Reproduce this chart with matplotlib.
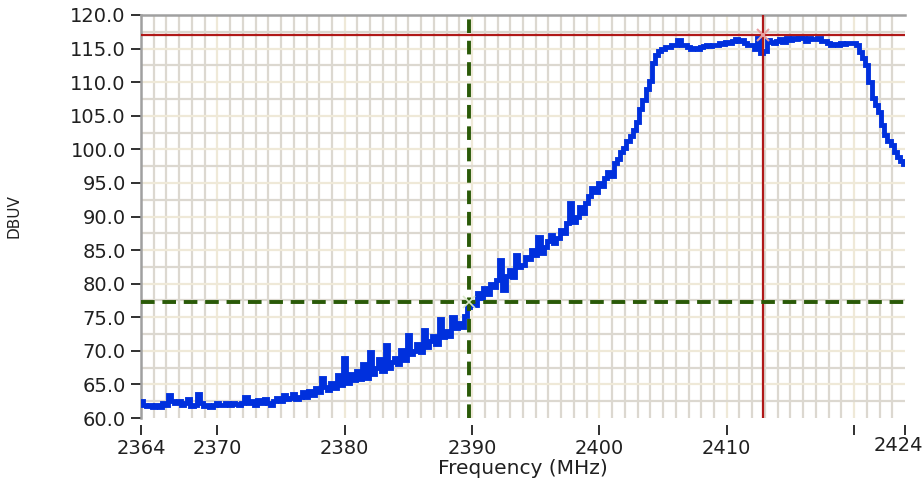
import numpy as np
import matplotlib
matplotlib.use("Agg")
import matplotlib.pyplot as plt
from matplotlib.ticker import MultipleLocator, FixedLocator, FuncFormatter

# sweep: 2364..2424 MHz, one reading every 0.25 MHz
freq_start = 2364.0
freq_step = 0.25
level_dbuv = [
    62.5, 62.0, 61.8, 61.9,   61.6, 62.0, 61.7, 62.3,
    62.0, 63.4, 62.6, 62.2,   62.6, 61.9, 62.2, 62.8,
    61.8, 62.0, 63.6, 62.3,   61.8, 62.0, 61.7, 62.0,
    62.2, 61.9, 62.0, 62.3,   61.9, 62.2, 62.1, 62.0,
    62.2, 63.2, 62.2, 62.6,   61.9, 62.7, 62.2, 62.9,
    62.3, 62.0, 62.6, 63.0,   62.5, 63.4, 62.8, 63.0,
    63.6, 62.9, 63.2, 63.8,   63.1, 64.0, 63.5, 64.4,
    63.9, 66.0, 64.6, 64.2,   65.2, 64.5, 66.4, 64.9,
    69.0, 65.2, 66.5, 65.6,   67.0, 65.8, 68.0, 66.0,
    69.9, 66.5, 67.4, 68.8,   67.0, 70.9, 67.5, 68.3,
    69.0, 68.0, 70.2, 68.6,   72.4, 69.5, 70.0, 71.0,
    69.8, 73.1, 70.6, 71.5,   72.2, 71.0, 74.8, 72.0,
    73.0, 72.2, 75.0, 73.4,   74.2, 73.5, 75.2, 76.5,
    77.0, 76.8, 78.6, 77.8,   79.3, 78.4, 80.0, 79.5,
    80.6, 83.5, 79.0, 81.2,   82.0, 81.0, 84.3, 82.5,
    82.8, 84.0, 83.6, 85.0,   84.2, 87.0, 84.6, 85.5,
    86.4, 87.3, 86.0, 86.8,   88.0, 87.5, 89.0, 92.0,
    89.2, 90.0, 91.4, 90.5,   92.0, 93.0, 94.3, 93.6,
    95.0, 94.6, 95.8, 96.6,   96.0, 98.0, 98.6, 99.6,
    100.2, 101.2, 102.0, 102.9, 104.0, 106.0, 107.4, 109.0,
    110.2, 112.8, 114.0, 114.6, 115.0, 115.3, 115.2, 115.5,
    115.6, 116.3, 115.5, 115.6, 115.2, 115.0, 115.1, 114.9,
    115.3, 115.4, 115.5, 115.4, 115.6, 115.5, 115.8, 115.7,
    116.0, 115.9, 116.2, 116.4, 116.1, 116.3, 115.8, 115.6,
    115.5, 114.9, 116.6, 114.4, 114.6, 116.3, 116.0, 115.8,
    116.2, 116.4, 116.0, 116.5, 116.3, 116.6, 116.4, 116.7,
    116.5, 116.2, 116.6, 116.4, 116.4, 116.6, 116.1, 116.2,
    115.9, 115.5, 115.7, 115.6, 115.8, 115.7, 115.9, 115.8,
    115.8, 115.5, 114.5, 113.6, 112.5, 110.0, 107.6, 106.6,
    105.6, 103.6, 102.1, 101.2, 100.6, 99.6, 98.9, 98.2,
    97.8,
]
freq = freq_start + freq_step * np.arange(len(level_dbuv))

# cursors (frequency MHz, level dBuV)
cursor_red = (2412.86, 117.0)
cursor_green = (2389.77, 77.3)

x_major = [2364, 2370, 2380, 2390, 2400, 2410, 2420, 2424]
x_labels = ["2364", "2370", "2380", "2390", "2400", "2410", "", ""]
last_label = "2424"

fig = plt.figure(figsize=(9.23, 4.88), dpi=100)
ax = fig.add_axes([0.1528, 0.1434, 0.9805 - 0.1528, 0.9693 - 0.1434])

ax.set_xlim(2364, 2424)
ax.set_ylim(60, 120)

# grid: beige at labelled values, greyer in between
gx = np.arange(2365, 2424)
ax.vlines(gx, 60, 120, colors=["#efe9d8" if f % 10 == 0 else "#dcd8d0" for f in gx],
          lw=1.6, zorder=0)
gy = np.arange(62.5, 120, 2.5)
ax.hlines(gy, 2364, 2424, colors=["#efe9d8" if v % 5 == 0 else "#dcd8d0" for v in gy],
          lw=1.6, zorder=0)

ax.plot(freq, level_dbuv, color="#0030dd", lw=3.5, drawstyle="steps-mid",
        solid_joinstyle="miter", zorder=3)

ax.axhline(cursor_red[1], color="#b01818", lw=1.6, zorder=4)
ax.axvline(cursor_red[0], color="#b01818", lw=1.6, zorder=4)
ax.plot(*cursor_red, marker="x", ms=8, mew=1.5, color="#e8a0a0", zorder=5)

ax.axhline(cursor_green[1], color="#2a5a08", lw=2.8, ls=(0, (3.5, 2.0)), zorder=4)
ax.axvline(cursor_green[0], color="#2a5a08", lw=2.8, ls=(0, (3.5, 2.0)), zorder=4)
ax.plot(*cursor_green, marker="x", ms=8, mew=1.2, color="#d8e8c8", zorder=5)

for side in ["right", "bottom"]:
    ax.spines[side].set_visible(False)
for side in ["left", "top"]:
    ax.spines[side].set_color("#a0a0a0")
    ax.spines[side].set_linewidth(1.8)
ax.spines["bottom"].set_position(("outward", 5))

ax.xaxis.set_major_locator(FixedLocator(x_major))
ax.set_xticklabels(x_labels)
ax.yaxis.set_major_locator(MultipleLocator(5))
ax.yaxis.set_major_formatter(FuncFormatter(lambda v, p: f"{v:.1f}"))
ax.tick_params(axis="both", direction="out", length=7, width=1.3,
               color="#202020", labelsize=14, labelcolor="#202020")
ax.tick_params(axis="x", pad=3)
ax.tick_params(axis="y", pad=4)

# end label sits left of its tick so it stays inside the figure
ax.annotate(last_label, xy=(2424, 0), xycoords=("data", "axes fraction"),
            xytext=(-4.5, -13.3), textcoords="offset points",
            ha="center", va="top", fontsize=14, color="#202020")

ax.set_xlabel("Frequency (MHz)", fontsize=14.5, color="#202020", labelpad=1)
ax.set_ylabel("DBUV", fontsize=11, color="#202020")
ax.yaxis.set_label_coords(-0.157, 0.5)

fig.savefig("out.png", dpi=100)
